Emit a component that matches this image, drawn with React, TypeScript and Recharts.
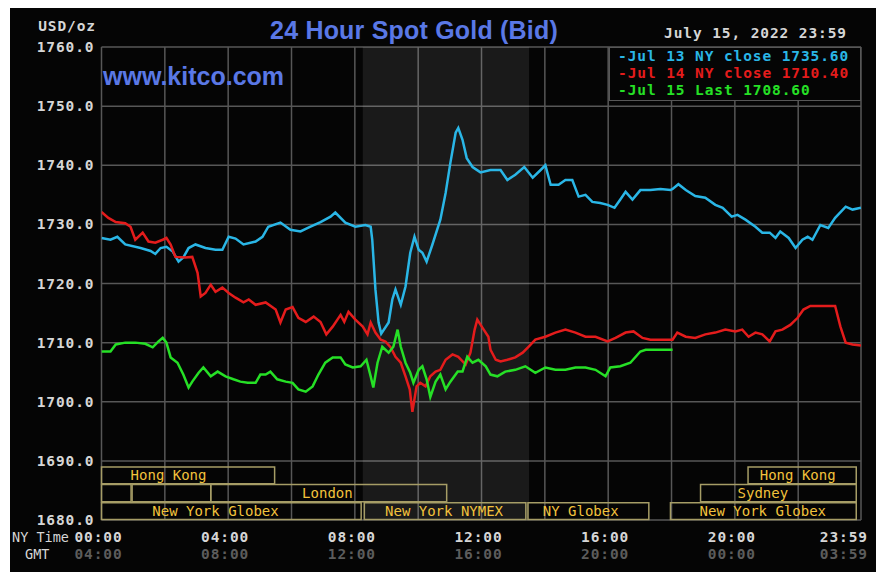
import React from 'react';
import {
  LineChart, Line, XAxis, YAxis, CartesianGrid, ReferenceArea, ReferenceDot, Legend,
} from 'recharts';

// ---------- data ----------
const jul13Times = [0,17,30,45,74,93,102,112,123,135,146,155,165,178,197,216,229,241,254,269,292,305,316,339,358,377,396,415,434,443,462,481,500,510,513,519,525,530,544,551,557,567,576,585,593,601,608,616,627,642,652,661,671,676,684,692,703,718,737,756,769,784,801,817,832,841,851,866,879,892,904,917,930,945,959,972,983,993,1006,1021,1040,1059,1078,1082,1093,1107,1125,1144,1163,1177,1194,1205,1220,1239,1252,1266,1277,1286,1302,1315,1328,1338,1347,1362,1377,1390,1410,1423,1439];
const jul13Values = [1727.7,1727.4,1727.9,1726.6,1726.0,1725.5,1725.0,1726.0,1726.2,1725.4,1723.7,1724.4,1726.0,1726.6,1726.0,1725.7,1725.7,1727.9,1727.6,1726.6,1727.1,1727.9,1729.6,1730.3,1729.1,1728.8,1729.6,1730.4,1731.3,1732.0,1730.3,1729.6,1729.9,1729.6,1727.4,1719.0,1713.4,1711.5,1713.4,1717.3,1719.0,1716.4,1719.5,1725.2,1727.9,1725.7,1725.2,1723.7,1726.6,1730.8,1735.3,1740.4,1745.5,1746.3,1744.3,1741.2,1739.7,1738.8,1739.2,1739.2,1737.5,1738.4,1739.7,1737.9,1739.2,1740.0,1736.7,1736.7,1737.5,1737.5,1734.7,1735.0,1733.8,1733.6,1733.3,1732.8,1734.2,1735.5,1734.2,1735.8,1735.8,1736.0,1735.8,1736.0,1736.8,1735.8,1734.8,1734.5,1733.3,1732.8,1731.3,1731.6,1730.8,1729.6,1728.6,1728.6,1727.7,1728.8,1727.7,1726.0,1727.4,1727.9,1727.4,1729.9,1729.4,1731.1,1733.0,1732.5,1732.8];

const jul14Times = [0,13,27,45,55,64,78,89,102,116,123,131,140,159,172,182,188,197,207,216,229,241,254,269,279,292,311,330,339,349,362,373,387,402,415,426,438,453,460,468,481,495,504,510,519,529,538,548,557,567,576,584,589,597,604,614,623,633,642,652,665,676,690,699,707,712,722,733,737,747,756,769,784,798,809,822,841,860,879,898,917,936,959,974,993,1008,1025,1040,1074,1082,1091,1107,1125,1144,1163,1182,1201,1214,1226,1239,1252,1266,1277,1290,1305,1319,1330,1343,1390,1400,1410,1423,1439];
const jul14Values = [1732.1,1731.1,1730.4,1730.2,1729.6,1727.4,1728.6,1727.1,1726.9,1727.4,1727.7,1726.6,1724.5,1724.4,1724.5,1721.8,1717.8,1718.4,1719.8,1718.6,1719.3,1718.4,1717.6,1716.8,1717.3,1716.4,1716.8,1715.6,1713.4,1715.6,1716.0,1714.2,1713.5,1714.4,1713.5,1711.4,1712.7,1714.7,1713.5,1715.2,1713.9,1712.7,1711.4,1713.4,1711.7,1710.5,1710.2,1709.2,1707.6,1706.6,1704.3,1702.1,1698.3,1702.6,1703.2,1702.6,1704.3,1705.1,1705.4,1707.1,1708.0,1707.6,1706.3,1708.3,1712.2,1713.9,1712.5,1711.0,1708.8,1707.1,1706.8,1707.1,1707.5,1708.3,1709.3,1710.5,1711.0,1711.7,1712.2,1711.7,1711.0,1711.0,1710.2,1710.8,1711.7,1711.9,1710.8,1710.5,1710.5,1710.5,1711.7,1711.0,1710.8,1711.4,1711.7,1712.2,1711.9,1712.2,1711.0,1711.7,1711.4,1710.2,1711.9,1712.2,1713.0,1714.2,1715.6,1716.2,1716.2,1712.7,1710.0,1709.7,1709.5];

const jul15Times = [0,17,27,45,64,83,97,108,116,123,131,144,155,165,172,184,193,207,220,235,250,263,277,292,301,311,320,333,349,362,373,387,400,411,424,438,453,462,476,491,502,510,515,523,532,544,553,561,567,576,585,591,601,608,616,623,633,642,652,661,675,684,693,703,714,728,737,750,765,784,803,822,841,860,879,898,917,936,955,964,983,1002,1021,1031,1082];
const jul15Values = [1708.5,1708.5,1709.7,1710.0,1710.0,1709.8,1709.2,1710.2,1710.8,1710.0,1707.5,1706.6,1704.6,1702.4,1703.4,1704.9,1705.8,1704.3,1705.1,1704.3,1703.8,1703.4,1703.2,1703.2,1704.6,1704.6,1705.1,1703.8,1703.4,1703.2,1702.1,1701.7,1702.6,1704.6,1706.6,1707.5,1707.5,1706.3,1705.8,1706.0,1707.1,1704.3,1702.4,1706.6,1709.3,1708.3,1709.3,1712.2,1709.3,1706.6,1704.9,1703.2,1705.4,1706.0,1703.8,1700.8,1703.4,1704.6,1702.1,1703.4,1705.1,1705.1,1707.6,1706.6,1707.1,1706.0,1704.6,1704.3,1705.1,1705.4,1706.0,1704.9,1705.8,1705.4,1705.4,1705.8,1705.8,1705.4,1704.3,1705.8,1706.0,1706.6,1708.5,1708.8,1708.8];

const seriesNames = ['Jul 13 NY close 1735.60', 'Jul 14 NY close 1710.40', 'Jul 15 Last 1708.60'];

const yTicks = [1680, 1690, 1700, 1710, 1720, 1730, 1740, 1750, 1760];
const gridTimes = [0, 120, 240, 360, 480, 600, 720, 840, 960, 1080, 1200, 1320, 1439];
const labelTimes = [0, 240, 480, 720, 960, 1200, 1439];
const nyTimeLabels = ['00:00', '04:00', '08:00', '12:00', '16:00', '20:00', '23:59'];
const gmtLabels = ['04:00', '08:00', '12:00', '16:00', '20:00', '00:00', '03:59'];

// NYMEX pit session (shaded)
const nymexStart = 495;
const nymexEnd = 810;

// market session boxes: start/end minutes, row (0 top .. 2 bottom)
const sessionStart = [0, 1225, 0, 58, 207, 1135, 0, 498, 808, 1078];
const sessionEnd = [328, 1430, 56, 207, 654, 1430, 492, 804, 1037, 1430];
const sessionRow = [0, 0, 1, 1, 1, 1, 2, 2, 2, 2];
// session labels: text, centre time, row
const sessionLabelText = ['Hong Kong', 'Hong Kong', 'London', 'Sydney', 'New York Globex', 'New York NYMEX', 'NY Globex', 'New York Globex'];
const sessionLabelTime = [127, 1319, 428, 1253, 216, 649, 908, 1253];
const sessionLabelRow = [0, 0, 1, 1, 2, 2, 2, 2];
// row bands in price units
const rowTop = [1688.95, 1686.0, 1682.9];
const rowBottom = [1686.15, 1683.1, 1680.1];

const build = (times: number[], values: number[]) => times.map((t, i) => ({ t, v: values[i] }));
const d13 = build(jul13Times, jul13Values);
const d14 = build(jul14Times, jul14Values);
const d15 = build(jul15Times, jul15Values);

const MONO = '"DejaVu Sans Mono", "Liberation Mono", monospace';
const SANS = '"Liberation Sans", Arial, sans-serif';
const COL13 = '#2ab6e6';
const COL14 = '#e41c1c';
const COL15 = '#26e026';
const GRID = '#575757';
const SESSION_STROKE = '#a69d66';
const SESSION_TEXT = '#f2c23c';
const MONO_SIZE = 14.5;
const MONO_SPACING = 0.9;

const YTick = (props: any) => {
  const { x, y, payload } = props;
  return (
    <text x={x} y={y} dy={5} textAnchor="end" fill="#d6d6d6" fontFamily={MONO} fontWeight="bold" fontSize={MONO_SIZE} letterSpacing={MONO_SPACING}>
      {Number(payload.value).toFixed(1)}
    </text>
  );
};

const XTick = (props: any) => {
  const { x, y, payload } = props;
  const idx = labelTimes.indexOf(payload.value);
  if (idx < 0) return null;
  const last = idx === labelTimes.length - 1;
  return (
    <g>
      <text x={x} y={y} dx={last ? 7 : -3} dy={21.5} textAnchor={last ? 'end' : 'middle'} fill="#d6d6d6" fontFamily={MONO} fontWeight="bold" fontSize={MONO_SIZE} letterSpacing={MONO_SPACING}>
        {nyTimeLabels[idx]}
      </text>
      <text x={x} y={y} dx={last ? 7 : -3} dy={38.5} textAnchor={last ? 'end' : 'middle'} fill="#5c5c5c" fontFamily={MONO} fontWeight="bold" fontSize={MONO_SIZE} letterSpacing={MONO_SPACING}>
        {gmtLabels[idx]}
      </text>
    </g>
  );
};

const LegendBox = (props: any) => {
  const payload = props.payload || [];
  return (
    <div style={{
      width: 252, height: 54, boxSizing: 'border-box', background: '#050505',
      border: `1.5px solid ${GRID}`, paddingLeft: 8, paddingTop: 0,
      fontFamily: MONO, fontWeight: 'bold', fontSize: MONO_SIZE, letterSpacing: MONO_SPACING,
      lineHeight: '17.3px', whiteSpace: 'pre',
    }}>
      {payload.map((p: any, i: number) => (
        <div key={i} style={{ color: p.color }}>{'-' + p.value}</div>
      ))}
    </div>
  );
};

export default function App() {
  const monoText = { fontFamily: MONO, fontWeight: 'bold' as const, fontSize: MONO_SIZE, letterSpacing: MONO_SPACING, lineHeight: '18px', whiteSpace: 'pre' as const };
  return (
    <div style={{ position: 'absolute', left: 0, top: 0, width: 885, height: 581, background: '#ffffff', overflow: 'hidden' }}>
      <div style={{ position: 'absolute', left: 10, top: 8, width: 866, height: 564, background: '#050505' }} />
      <div style={{ position: 'absolute', left: 0, top: 0 }}>
        <LineChart width={885} height={581} margin={{ top: 47, right: 24, bottom: 21, left: 41.5 }}>
          <ReferenceArea x1={nymexStart} x2={nymexEnd} y1={1680} y2={1760} fill="#ffffff" fillOpacity={0.085} stroke="none" ifOverflow="visible" />
          <CartesianGrid stroke={GRID} strokeWidth={1.5} horizontalValues={yTicks} verticalValues={gridTimes} />
          <XAxis
            dataKey="t" type="number" domain={[0, 1439]} ticks={gridTimes} interval={0}
            axisLine={false} tickLine={false} tickSize={0} tickMargin={0} height={40}
            tick={<XTick />} allowDataOverflow
          />
          <YAxis
            type="number" domain={[1680, 1760]} ticks={yTicks} interval={0}
            axisLine={false} tickLine={false} tickSize={0} tickMargin={7} width={60}
            tick={<YTick />} allowDataOverflow
          />
          {sessionStart.map((s, i) => (
            <ReferenceArea
              key={'s' + i} x1={s} x2={sessionEnd[i]} y1={rowBottom[sessionRow[i]]} y2={rowTop[sessionRow[i]]}
              fill="none" fillOpacity={0} stroke={SESSION_STROKE} strokeWidth={1.5} ifOverflow="visible"
            />
          ))}
          {sessionLabelText.map((txt, i) => (
            <ReferenceDot
              key={'l' + i} x={sessionLabelTime[i]}
              y={(rowTop[sessionLabelRow[i]] + rowBottom[sessionLabelRow[i]]) / 2}
              r={0} fill="none" stroke="none" ifOverflow="visible"
              label={{ value: txt, position: 'center', fill: SESSION_TEXT, fontFamily: MONO, fontSize: 14 }}
            />
          ))}
          <Line data={d13} dataKey="v" name={seriesNames[0]} stroke={COL13} strokeWidth={2.5} dot={false} isAnimationActive={false} />
          <Line data={d14} dataKey="v" name={seriesNames[1]} stroke={COL14} strokeWidth={2.5} dot={false} isAnimationActive={false} />
          <Line data={d15} dataKey="v" name={seriesNames[2]} stroke={COL15} strokeWidth={2.5} dot={false} isAnimationActive={false} />
          <Legend
            layout="horizontal" verticalAlign="middle" align="center"
            content={<LegendBox />}
            wrapperStyle={{ left: 609, top: 46.5, width: 252, height: 54 }}
          />
        </LineChart>
      </div>
      <div style={{ position: 'absolute', left: 36, top: 17, width: 60, textAlign: 'right', color: '#d6d6d6', ...monoText }}>USD/oz</div>
      <div style={{ position: 'absolute', left: 200, top: 17, width: 428, textAlign: 'center', color: '#5a78e6', fontFamily: SANS, fontWeight: 'bold', fontSize: 25, lineHeight: '26px', letterSpacing: '0.2px' }}>24 Hour Spot Gold (Bid)</div>
      <div style={{ position: 'absolute', left: 103, top: 63, color: '#5a78e6', fontFamily: SANS, fontWeight: 'bold', fontSize: 25, lineHeight: '26px' }}>www.kitco.com</div>
      <div style={{ position: 'absolute', left: 664, top: 24, color: '#d6d6d6', ...monoText }}>July 15, 2022 23:59</div>
      <div style={{ position: 'absolute', left: 12, top: 528, color: '#d6d6d6', fontFamily: MONO, fontSize: 13.5, lineHeight: '18px', whiteSpace: 'pre' }}>NY Time</div>
      <div style={{ position: 'absolute', left: 25, top: 545, color: '#d6d6d6', fontFamily: MONO, fontSize: 13.5, lineHeight: '18px', whiteSpace: 'pre' }}>GMT</div>
    </div>
  );
}
